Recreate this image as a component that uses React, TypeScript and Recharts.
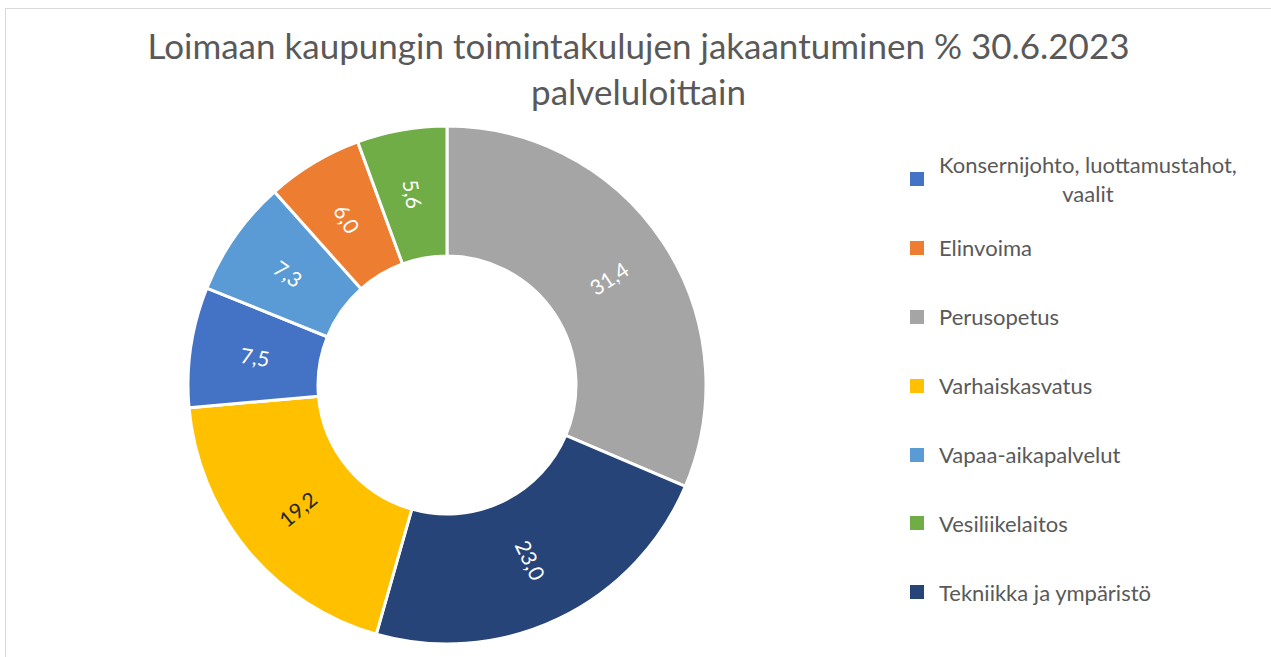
import { PieChart, Pie, Cell, Legend } from 'recharts';

const categories = [
  'Perusopetus',
  'Tekniikka ja ympäristö',
  'Varhaiskasvatus',
  'Konsernijohto, luottamustahot, vaalit',
  'Vapaa-aikapalvelut',
  'Elinvoima',
  'Vesiliikelaitos',
];
const shares = [31.4, 23.0, 19.2, 7.5, 7.3, 6.0, 5.6];
const COLORS = ['#A5A5A5', '#264478', '#FFC000', '#4472C4', '#5B9BD5', '#ED7D31', '#70AD47'];
const LABEL_COLORS = ['#FFFFFF', '#FFFFFF', '#262626', '#FFFFFF', '#FFFFFF', '#FFFFFF', '#FFFFFF'];

// legend is listed in a different order than the slices
const legendOrder = [
  'Konsernijohto, luottamustahot, vaalit',
  'Elinvoima',
  'Perusopetus',
  'Varhaiskasvatus',
  'Vapaa-aikapalvelut',
  'Vesiliikelaitos',
  'Tekniikka ja ympäristö',
];

const TITLE = ['Loimaan kaupungin toimintakulujen jakaantuminen % 30.6.2023', 'palveluloittain'];

const data = categories.map((name, i) => ({ name, value: shares[i] }));

const FONT = 'Lato, "Open Sans", sans-serif';
const RAD = Math.PI / 180;

const renderLabel = ({ cx, cy, midAngle, innerRadius, outerRadius, value, index }: any) => {
  const r = (innerRadius + outerRadius) / 2;
  const x = cx + r * Math.cos(-midAngle * RAD);
  const y = cy + r * Math.sin(-midAngle * RAD);
  let rot = -midAngle;
  if (Math.cos(-midAngle * RAD) < 0) rot += 180;
  return (
    <text
      x={x}
      y={y}
      fill={LABEL_COLORS[index]}
      fontSize={21}
      fontFamily={FONT}
      textAnchor="middle"
      dominantBaseline="central"
      transform={`rotate(${rot} ${x} ${y})`}
    >
      {value.toFixed(1).replace('.', ',')}
    </text>
  );
};

const LegendContent = () => (
  <div style={{ fontFamily: FONT, fontSize: 22, color: '#595959' }}>
    {legendOrder.map((name) => {
      const color = COLORS[categories.indexOf(name)];
      const twoLine = name.length > 30;
      return (
        <div key={name} style={{ display: 'flex', alignItems: 'center', height: 68.9 }}>
          <span style={{ width: 14, height: 14, background: color, marginRight: 15, flexShrink: 0 }} />
          <span style={{ textAlign: 'center', lineHeight: '29px', whiteSpace: 'nowrap' }}>
            {twoLine ? (
              <>
                Konsernijohto, luottamustahot,
                <br />
                vaalit
              </>
            ) : (
              name
            )}
          </span>
        </div>
      );
    })}
  </div>
);

export default function App() {
  return (
    <div style={{ position: 'fixed', left: 0, top: 0, width: 1271, height: 657, overflow: 'hidden', background: '#fff' }}>
      <div
        style={{
          position: 'absolute',
          left: 5,
          top: 8,
          width: 1300,
          height: 700,
          border: '1px solid #D9D9D9',
        }}
      />
      <div style={{ position: 'absolute', left: 0, top: 0, width: 1271, textAlign: 'center' }}>
        <div style={{ fontFamily: FONT, fontSize: 35, color: '#595959', lineHeight: '46px', paddingTop: 22, marginLeft: 6 }}>
          {TITLE[0]}
          <br />
          {TITLE[1]}
        </div>
      </div>
      <div style={{ position: 'absolute', left: 0, top: 0 }}>
        <PieChart width={1271} height={657} margin={{ top: 0, right: 0, bottom: 0, left: 0 }}>
          <Pie
            data={data}
            dataKey="value"
            nameKey="name"
            cx={447}
            cy={385}
            innerRadius={129}
            outerRadius={259}
            startAngle={90}
            endAngle={-270}
            stroke="#FFFFFF"
            strokeWidth={3}
            label={renderLabel}
            labelLine={false}
            isAnimationActive={false}
          >
            {data.map((_, i) => (
              <Cell key={i} fill={COLORS[i]} />
            ))}
          </Pie>
          <Legend
            layout="vertical"
            content={<LegendContent />}
            wrapperStyle={{ left: 910, top: 144.5, width: 360 }}
          />
        </PieChart>
      </div>
    </div>
  );
}
